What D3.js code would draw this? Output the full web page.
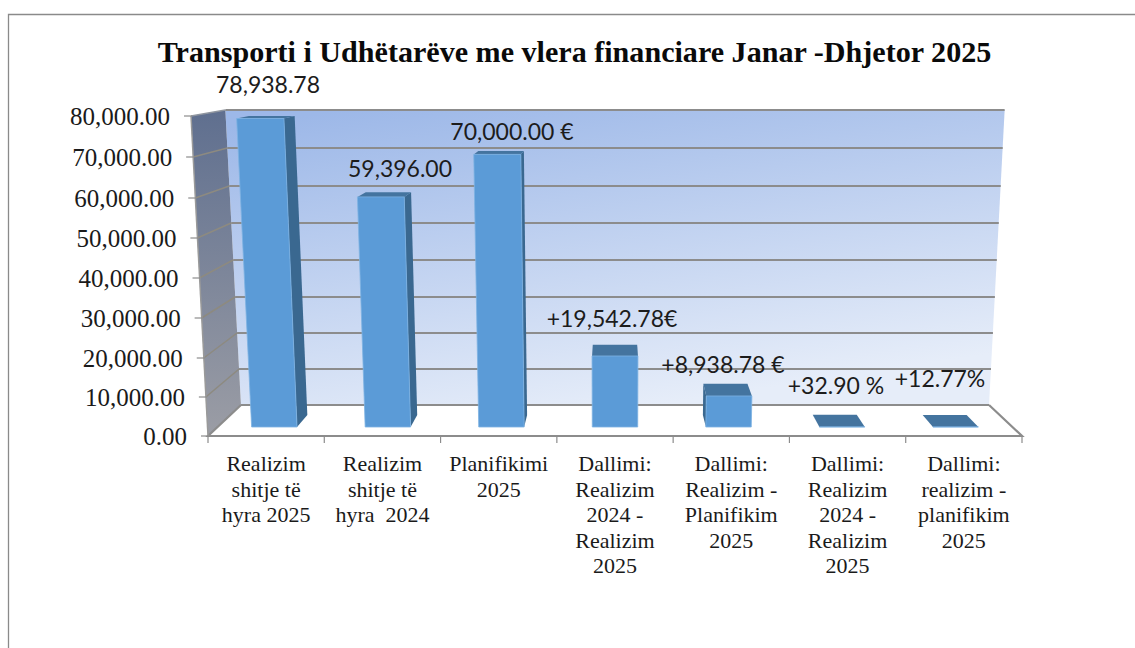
<!DOCTYPE html>
<html>
<head>
<meta charset="utf-8">
<script src="https://cdnjs.cloudflare.com/ajax/libs/d3/7.8.5/d3.min.js"></script>
<style>
html,body{margin:0;padding:0;background:#fff;}
svg{display:block;}
</style>
</head>
<body>
<svg id="c" width="1135" height="648"></svg>
<script>
const titleText = "Transporti i Udhëtarëve me vlera financiare Janar -Dhjetor 2025";
const categories = [
  ["Realizim","shitje të","hyra 2025"],
  ["Realizim","shitje të","hyra  2024"],
  ["Planifikimi","2025"],
  ["Dallimi:","Realizim","2024 -","Realizim","2025"],
  ["Dallimi:","Realizim -","Planifikim","2025"],
  ["Dallimi:","Realizim","2024 -","Realizim","2025"],
  ["Dallimi:","realizim -","planifikim","2025"]
];
const values = [78938.78, 59396.00, 70000.00, 19542.78, 8938.78, 32.90, 12.77];
const valueLabels = ["78,938.78","59,396.00","70,000.00 €","+19,542.78€","+8,938.78 €","+32.90 %","+12.77%"];
const valueTicks = [0,10000,20000,30000,40000,50000,60000,70000,80000];

// label anchor points, kept apart from the data
const labelPos = [[268,93],[400,177],[512,140],[612,327],[723,373],[836,394],[940,387]];

const svg = d3.select("#c");
const defs = svg.append("defs");
const wallG = defs.append("linearGradient").attr("id","wall").attr("x1",0.15).attr("y1",0).attr("x2",0.55).attr("y2",1);
wallG.append("stop").attr("offset",0).attr("stop-color","#9db8e8");
wallG.append("stop").attr("offset",1).attr("stop-color","#e6edf9");
const sideG = defs.append("linearGradient").attr("id","side").attr("x1",0).attr("y1",0).attr("x2",0).attr("y2",1);
sideG.append("stop").attr("offset",0).attr("stop-color","#5f6f8f");
sideG.append("stop").attr("offset",1).attr("stop-color","#9b9da5");

// perspective: value -> front and back screen height, half width
const yFront = d3.scaleLinear().domain(valueTicks).range([436,397,358,318,278,238,198,157,116]);
const yBack  = d3.scaleLinear().domain(valueTicks).range([405,369,333,297,260,223,186,148,110]);
const halfW  = d3.scaleLinear().domain([0,80000]).range([407,424]);
const depthScale = d3.scaleLinear().domain([0,1]).range([1,0.919]);
const barSag = d3.scaleLinear().domain([0,8000,20000,55000,80000]).range([0,3,3.5,0,0]);
const cx = 615;
const uScale = d3.scaleBand().domain(d3.range(categories.length)).range([-1,1]).paddingInner(0).paddingOuter(0);
const gapWidth = 0.4;            // bar width as share of band
const dFront = 0.29, dBack = 0.68;

function P(u,v,d){
  const x = cx + u*halfW(v)*depthScale(d);
  const y = yFront(v) + (yBack(v)-yFront(v))*d;
  return [x,y];
}
function B(u,v,d){ const p = P(u,v,d); return [p[0], p[1]+barSag(v)*(d===dFront?1:0.6)]; }
const poly = pts => "M"+pts.map(p=>p.join(",")).join("L")+"Z";
const line = pts => "M"+pts.map(p=>p.join(",")).join("L");
const axisGrey = "#8c8c8c";

// frame
svg.append("path").attr("d","M1135,14.5H8.5V648").attr("fill","none").attr("stroke","#8a8a8a").attr("stroke-width",1.3);

// walls and floor
svg.append("path").attr("d",poly([P(-1,80000,1),P(1,80000,1),P(1,0,1),P(-1,0,1)])).attr("fill","url(#wall)");
svg.append("path").attr("d",poly([P(-1,80000,0),P(-1,80000,1),P(-1,0,1),P(-1,0,0)])).attr("fill","url(#side)");
svg.append("path").attr("d",poly([P(-1,0,1),P(1,0,1),P(1,0,0),P(-1,0,0)])).attr("fill","#fff");

// gridlines
svg.append("g").selectAll("path").data(valueTicks).join("path")
  .attr("d",v=>line([P(-1,v,1),P(1,v,1)]))
  .attr("fill","none").attr("stroke",axisGrey).attr("stroke-width",2.2);
svg.append("g").selectAll("path").data(valueTicks.slice(1)).join("path")
  .attr("d",v=>line([P(-1,v,0),P(-1,v,1)]))
  .attr("fill","none").attr("stroke",v=>v===80000?"#8f959f":"#8d8a80").attr("stroke-width",1.5);

// floor edges
svg.append("path").attr("d",line([P(-1,0,1),P(-1,0,0),P(1,0,0),P(1,0,1)])).attr("fill","none").attr("stroke",axisGrey).attr("stroke-width",2.2);
svg.append("path").attr("d",line([P(-1,80000,0),P(-1,0,0)])).attr("fill","none").attr("stroke","#9a9a9a").attr("stroke-width",1.5);

// axis ticks
svg.append("g").selectAll("line").data(valueTicks).join("line")
  .attr("x1",v=>P(-1,v,0)[0]-7).attr("x2",v=>P(-1,v,0)[0]+1)
  .attr("y1",v=>P(-1,v,0)[1]).attr("y2",v=>P(-1,v,0)[1])
  .attr("stroke",axisGrey).attr("stroke-width",1.2);
const fmt = d3.format(",.2f");
svg.append("g").selectAll("text").data(valueTicks).join("text")
  .attr("x",v=>P(-1,v,0)[0]-21).attr("y",v=>P(-1,v,0)[1]+8.5)
  .attr("text-anchor","end").attr("font-family","'Liberation Serif'").attr("font-size",25).attr("fill","#1a1a1a")
  .text(v=>fmt(v));

const bandW = uScale.bandwidth();
const boundaries = d3.range(categories.length+1).map(i=>-1+i*bandW);
svg.append("g").selectAll("line").data(boundaries).join("line")
  .attr("x1",u=>P(u,0,0)[0]).attr("x2",u=>P(u,0,0)[0])
  .attr("y1",436).attr("y2",443)
  .attr("stroke",axisGrey).attr("stroke-width",1.2);

// bars
const bars = svg.append("g").selectAll("g").data(values).join("g");
bars.each(function(v,i){
  const g = d3.select(this);
  const uc = uScale(i)+bandW/2, hw = bandW*gapWidth/2;
  const L = uc-hw, R = uc+hw;
  const sideU = uc<0 ? R : L;
  if (Math.abs(uc)>1e-6){
    g.append("path").attr("d",poly([B(sideU,v,dFront),B(sideU,v,dBack),B(sideU,0,dBack),B(sideU,0,dFront)])).attr("fill","#3a6890");
  }
  g.append("path").attr("d",poly([B(L,v,dFront),B(L,v,dBack),B(R,v,dBack),B(R,v,dFront)])).attr("fill","#44749f");
  g.append("path").attr("d",poly([B(L,v,dFront),B(R,v,dFront),B(R,0,dFront),B(L,0,dFront)])).attr("fill","#5b9bd7").attr("stroke","#7db2e2").attr("stroke-width",0.8);
});

// value labels
svg.append("g").selectAll("text").data(valueLabels).join("text")
  .attr("x",(d,i)=>labelPos[i][0]).attr("y",(d,i)=>labelPos[i][1])
  .attr("text-anchor","middle").attr("font-family","Lato").attr("font-size",23).attr("fill","#1c1c1c")
  .text(d=>d);

// category labels
const cats = svg.append("g").selectAll("text").data(categories).join("text")
  .attr("text-anchor","middle").attr("font-family","'Liberation Serif'").attr("font-size",22).attr("fill","#1a1a1a");
cats.each(function(lines,i){
  const x = P(uScale(i)+bandW/2,0,0)[0];
  d3.select(this).selectAll("tspan").data(lines).join("tspan")
    .attr("x",x).attr("y",(d,j)=>471+j*25.5).attr("xml:space","preserve").text(d=>d);
});

// title
svg.append("text").attr("x",574.5).attr("y",62).attr("text-anchor","middle")
  .attr("font-family","'Liberation Serif'").attr("font-weight","bold").attr("font-size",30.1).attr("fill","#0a0a0a")
  .text(titleText);
</script>
</body>
</html>
